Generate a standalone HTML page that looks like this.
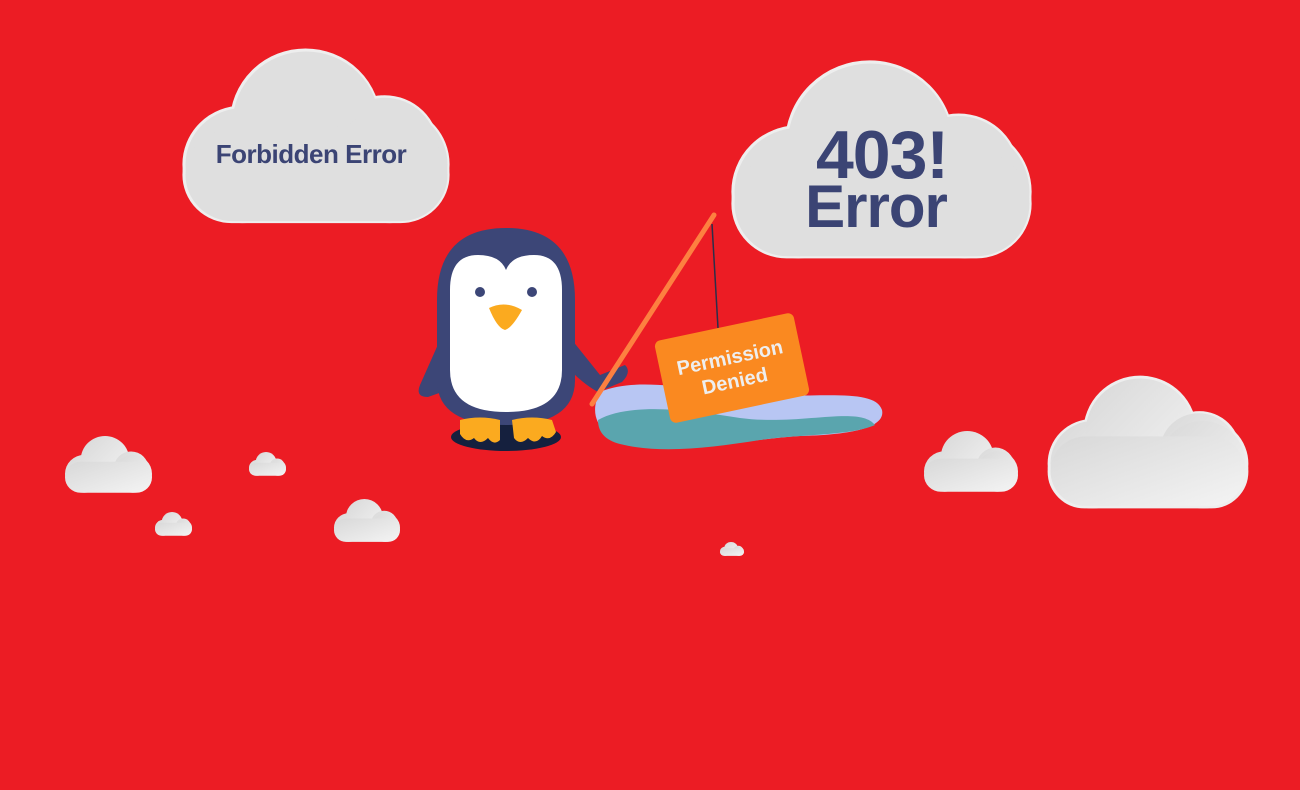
<!DOCTYPE html>
<html><head><meta charset="utf-8"><style>
html,body{margin:0;padding:0;background:#ec1c24;}
svg{display:block}
text{font-family:"Liberation Sans",sans-serif;font-weight:bold}
</style></head><body>
<svg width="1300" height="790" viewBox="0 0 1300 790" xmlns="http://www.w3.org/2000/svg">
<defs>
<linearGradient id="cg" x1="0" y1="0" x2="1" y2="1">
<stop offset="0" stop-color="#d8d8d8"/><stop offset="1" stop-color="#f4f4f4"/>
</linearGradient>
<g id="cloud">
<circle cx="22" cy="44" r="22"/>
<circle cx="46" cy="28" r="28"/>
<circle cx="76" cy="38" r="20"/>
<circle cx="78" cy="44" r="22"/>
<rect x="0" y="30" width="100" height="36" rx="18"/>
</g>
</defs>
<rect width="1300" height="790" fill="#ec1c24"/>

<!-- outline layer -->
<g fill="#eeeeee" stroke="#eeeeee" stroke-width="3" vector-effect="non-scaling-stroke">
<g transform="translate(184,50) scale(2.64,2.6)"><use href="#cloud" stroke-width="1.2"/></g>
<g transform="translate(733,62) scale(2.97,2.95)"><use href="#cloud" stroke-width="1.1"/></g>
<g transform="translate(1049,377) scale(1.98,1.97)"><use href="#cloud" stroke-width="1.4"/></g>
</g>
<!-- fill layer -->
<g fill="#dfdfdf">
<g transform="translate(185.5,51.5) scale(2.62,2.57)"><use href="#cloud"/></g>
<g transform="translate(734.5,63.5) scale(2.95,2.92)"><use href="#cloud"/></g>
</g>
<g fill="url(#cg)">
<g transform="translate(1050.5,378.5) scale(1.95,1.93)"><use href="#cloud"/></g>
<g transform="translate(924,431) scale(0.94,0.92)"><use href="#cloud"/></g>
<g transform="translate(65,436) scale(0.87,0.86)"><use href="#cloud"/></g>
<g transform="translate(249,452) scale(0.37,0.36)"><use href="#cloud"/></g>
<g transform="translate(155,512) scale(0.37,0.36)"><use href="#cloud"/></g>
<g transform="translate(334,499) scale(0.66,0.65)"><use href="#cloud"/></g>
<g transform="translate(720,542) scale(0.24,0.21)"><use href="#cloud"/></g>
</g>

<text x="311" y="163" font-size="26" fill="#3b4474" text-anchor="middle" letter-spacing="-0.5">Forbidden Error</text>
<text x="882" y="178" font-size="68" fill="#3b4474" text-anchor="middle" letter-spacing="-1">403!</text>
<text x="876" y="227" font-size="60" fill="#3b4474" text-anchor="middle" letter-spacing="-1">Error</text>

<!-- pond -->
<path d="M600,392 C640,375 700,392 760,395 C820,398 875,388 882,410 C886,428 850,435 800,436 C740,440 700,452 650,448 C605,444 585,420 600,392Z" fill="#b8c6f3"/>
<path d="M598,420 C630,402 690,410 740,418 C800,426 860,405 875,425 C850,436 800,434 760,440 C710,448 660,454 620,444 C605,440 598,432 598,420Z" fill="#5aa5ae"/>

<!-- penguin -->
<ellipse cx="506" cy="437" rx="55" ry="14" fill="#15203e"/>
<path d="M440,340 L420,385 Q415,397 428,397 L442,392Z" fill="#3c4677"/>
<path d="M572,340 L600,375 L625,365 Q632,372 622,382 L598,392 Q585,385 572,372Z" fill="#3c4677"/>
<path d="M437,300 Q437,228 506,228 Q575,228 575,300 L575,380 Q575,425 506,425 Q437,425 437,380Z" fill="#3c4677"/>
<path d="M450,290 Q450,255 478,255 Q500,255 506,270 Q512,255 534,255 Q562,255 562,290 L562,370 Q562,412 506,412 Q450,412 450,370Z" fill="#fff"/>
<circle cx="480" cy="292" r="5" fill="#3c4677"/>
<circle cx="532" cy="292" r="5" fill="#3c4677"/>
<path d="M489,308 Q505,300 522,310 Q512,328 505,330 Q497,328 489,308Z" fill="#fbaa1f"/>
<path d="M460,420 Q480,415 500,420 L500,440 Q494,446 488,438 Q480,446 474,438 Q466,444 460,434Z" fill="#fbaa1f"/>
<path d="M512,420 Q532,415 552,420 L556,432 Q550,442 542,436 Q536,446 528,438 Q520,446 514,438Z" fill="#fbaa1f"/>

<!-- rod -->
<line x1="592" y1="404" x2="714" y2="215" stroke="#fd8040" stroke-width="5" stroke-linecap="round"/>
<line x1="712" y1="224" x2="718" y2="328" stroke="#2b2f4a" stroke-width="1.5"/>

<!-- sign -->
<g transform="translate(732,368) rotate(-12)">
<rect x="-71" y="-42" width="142" height="84" rx="6" fill="#fa8920"/>
<text x="0" y="-4" font-size="20" fill="#eeeeee" text-anchor="middle">Permission</text>
<text x="0" y="20" font-size="20" fill="#eeeeee" text-anchor="middle">Denied</text>
</g>
</svg>
</body></html>
